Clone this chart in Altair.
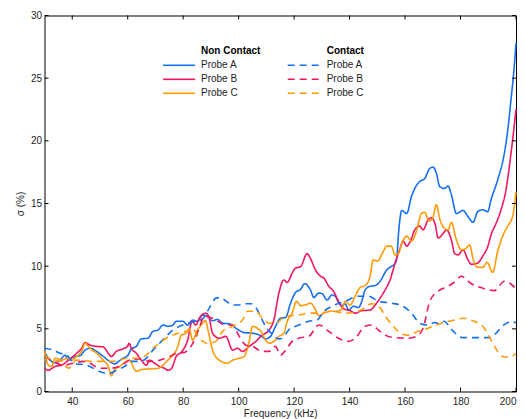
import altair as alt
import pandas as pd

# ---------------- data ----------------
nc_a_f = [30, 31, 32, 34, 36, 37.4, 38.6, 40, 41, 42.8, 44.6, 46.4, 48.8, 51.2, 53.5, 55.3, 57, 58.3, 60.1, 61.3,
          63.1, 64.9, 67.3, 69.1, 70.9, 72.7, 74.5, 76.3, 77.5, 79.9, 81.6, 83.4, 85.2, 87, 88.8, 90.6, 92.4, 94.2,
          96.6, 99, 102, 105, 108, 109.7, 111.5, 113.3, 115.1, 116.9, 118.7, 120.5, 122.3, 123.8, 125.9, 127.1,
          128.9, 130.1, 131.9, 133.6, 134.8, 136, 137.2, 138.4, 139.6, 141.4, 143.2, 144.4, 145.6, 147.4, 149.2,
          151, 153.4, 155.2, 156.4, 157, 157.6, 158.3, 158.8, 160.6, 162.3, 163.5, 165.3, 167.1, 168.9, 170.1,
          171.3, 172.5, 174.3, 175.5, 176.7, 178.5, 180.9, 182.7, 184.5, 186.2, 188, 189.8, 191, 193.4, 195.8,
          197, 198.2, 199.2, 200]
nc_a_v = [3.1, 2.8, 2.5, 2.3, 2.6, 2.9, 2.5, 2.7, 2.8, 2.85, 3.3, 3.45, 3.2, 2.8, 2.4, 2.2, 2.45, 2.65, 2.9, 3.4,
          3.6, 4.2, 4.25, 4.8, 4.9, 5.3, 5.2, 5.3, 5.6, 5.6, 5.3, 5.7, 5.6, 6.1, 6.0, 5.65, 5.75, 5.45,
          5.4, 5.05, 4.7, 4.65, 4.45, 4.2, 4.4, 5.2, 5.85, 5.9, 7.05, 7.9, 8.15, 8.6, 8.1, 7.5,
          7.85, 7.8, 7.3, 7.7, 7.6, 7.1, 6.85, 7.0, 6.5, 6.8, 6.7, 7.2, 8.1, 8.4, 8.45,
          8.8, 9.7, 10.0, 10.2, 10.6, 12.5, 14.0, 14.45, 14.2, 15.55, 16.2, 16.75, 17.0, 17.8, 17.9,
          17.4, 16.35, 16.2, 16.4, 15.7, 14.2, 14.45, 13.95, 13.5, 14.35, 14.5, 14.35, 15.3, 16.9, 19.0,
          20.8, 23.3, 25.5, 27.8]

nc_b_f = [30, 31.4, 33.8, 36.2, 38.6, 41.6, 43.4, 44.6, 46.4, 48.8, 51.2, 53, 54.1, 55.9, 58.3, 59.9, 60.5, 61.3,
          63.1, 64.9, 66.7, 67.9, 69.7, 71.5, 73.3, 74.5, 75.7, 77.5, 79.6, 81.6, 83.2, 84.6, 85.8, 88.2, 89.4,
          90.6, 93, 95.4, 97.8, 99.6, 101.4, 103.8, 106.2, 108.5, 111, 112.7, 114.5, 116.3, 117.5, 119.3, 120.5,
          122.3, 124.7, 125.9, 127.7, 129.5, 130.7, 132.5, 134.2, 136, 137.8, 140.2, 142, 144.4, 147.4, 149.2,
          151, 152.8, 154.6, 156.4, 158.2, 159.3, 160.6, 162.3, 163.5, 165.3, 166.5, 168.3, 169.5, 170.9, 171.9,
          173.7, 174.9, 176.7, 177.9, 179.1, 180.9, 182.7, 183.9, 186.2, 188, 189.8, 191, 192.8, 194.6, 196.4,
          198.2, 200]
nc_b_v = [1.85, 1.7, 2.0, 2.1, 2.5, 3.05, 3.45, 3.9, 3.7, 3.6, 3.55, 3.05, 2.8, 3.2, 3.4, 3.6, 3.85, 3.45,
          3.05, 2.5, 2.1, 2.5, 2.25, 2.0, 1.85, 1.7, 1.8, 2.8, 3.2, 4.1, 5.6, 5.3, 5.85, 6.25, 5.85,
          4.65, 4.25, 4.4, 3.3, 3.45, 3.2, 3.6, 4.0, 4.5, 4.9, 5.7, 7.85, 8.9, 8.7, 9.45, 9.85,
          9.95, 11.0, 10.6, 9.7, 9.2, 9.05, 8.4, 8.0, 7.2, 6.6, 6.45, 6.25, 6.45, 6.5, 6.9,
          7.45, 8.1, 8.9, 10.25, 11.4, 12.0, 11.6, 12.2, 12.9, 13.2, 12.9, 13.7, 13.85, 13.3, 12.25,
          12.6, 12.9, 12.1, 11.0, 10.9, 11.3, 10.5, 10.15, 10.25, 10.8, 11.55, 12.5, 13.4, 14.5, 16.1,
          19.0, 22.5]

nc_c_f = [30, 31.4, 32.6, 33.8, 36.2, 38, 39.8, 41.6, 43.4, 44.6, 46.4, 48.8, 51.2, 53, 54.1, 55.3, 57.1, 59.5,
          60.7, 61.9, 63.1, 64.9, 67.9, 70.9, 72.7, 74.5, 76.3, 78.1, 79.3, 81, 82.2, 83.4, 85.2, 87, 88, 89.2,
          90.6, 93, 96, 97.8, 100.2, 102, 103.8, 105, 106.7, 108.5, 109.7, 111, 112.7, 114.5, 116.3, 117.5, 119.3,
          120.9, 122.3, 124.1, 125.9, 127.4, 128.9, 130.7, 132.5, 134.8, 137.2, 138.4, 140.2, 142, 143.8, 145.6,
          147.4, 148.5, 150, 152.2, 153.4, 155, 156.4, 157.6, 158.8, 160.6, 162.3, 164.1, 165.9, 167.1, 168.6,
          169.9, 171.3, 172.5, 173.7, 175.5, 176.7, 178.5, 180.3, 182.1, 183.3, 184.5, 186.2, 188, 189.6, 191.6,
          193.4, 195.2, 197, 198.8, 200]
nc_c_v = [3.2, 2.1, 2.0, 2.65, 2.5, 2.65, 2.5, 2.8, 3.2, 3.85, 3.45, 3.05, 2.5, 2.0, 1.25, 1.75, 2.0, 2.4,
          2.5, 2.0, 1.6, 1.75, 1.8, 1.85, 2.1, 2.5, 2.9, 3.6, 4.5, 4.65, 5.0, 4.1, 4.9, 5.45, 5.65, 4.65,
          3.3, 2.5, 2.25, 2.5, 2.65, 2.8, 4.0, 5.2, 5.05, 4.65, 4.1, 3.85, 4.0, 4.4, 4.65, 5.6, 6.25,
          7.2, 6.85, 6.9, 7.05, 6.65, 6.05, 6.25, 6.4, 6.4, 6.55, 7.2, 6.9, 7.6, 8.3, 8.45,
          9.2, 10.5, 10.4, 11.2, 11.6, 11.6, 10.9, 11.0, 11.8, 12.4, 12.0, 12.8, 14.2, 14.3, 13.6,
          13.8, 14.9, 13.8, 13.15, 12.9, 13.5, 12.1, 11.3, 11.45, 11.7, 10.6, 9.9, 9.9, 10.3, 9.5,
          11.2, 12.4, 13.2, 14.0, 15.9]

c_a_f = [30, 33.2, 35.6, 38, 40, 41.6, 44, 46.4, 48.8, 51.2, 53.5, 55.9, 58.9, 61.3, 64.3, 66.7, 69.1, 71.5,
         73.9, 76.3, 78.7, 81.6, 84.6, 87, 89.4, 91.8, 93.6, 95.5, 97.8, 100, 102.5, 104.5, 106.5, 108.5, 110,
         112, 114.5, 115.7, 118, 121.7, 125.3, 128.3, 130.7, 133.6, 138.4, 143.2, 146.8, 150.4, 155.2, 159.3,
         162.3, 165.3, 168.3, 170.7, 172.5, 174, 177, 180.6, 185.4, 190.8, 193, 195, 198.6, 200]
c_a_v = [3.45, 3.3, 3.05, 2.9, 2.4, 2.2, 2.15, 2.0, 1.7, 1.5, 1.45, 1.7, 2.0, 2.4, 2.4, 2.65, 3.3, 3.85,
         4.4, 4.9, 5.2, 5.45, 5.6, 5.8, 6.65, 7.45, 7.5, 7.2, 6.9, 6.9, 7.0, 7.0, 6.6, 5.7, 5.1,
         4.6, 4.2, 4.25, 4.9, 5.3, 5.6, 5.7, 6.4, 6.8, 7.2, 7.6, 7.6, 7.2, 7.05, 6.8,
         6.25, 5.45, 5.3, 5.5, 5.4, 5.6, 4.9, 4.3, 4.3, 4.3, 4.7, 5.2, 5.6, 5.45]

c_b_f = [30, 33.2, 36.8, 40.4, 44, 46.4, 50, 53.5, 57.1, 60.7, 64.3, 67.9, 71.5, 75.1, 78.7, 79.9, 82.8, 84.6,
         86, 87.6, 90.6, 95.4, 97.8, 100.2, 102.6, 105, 108.5, 111, 113.3, 115.1, 116.9, 119.3, 121.7, 125.3,
         128.9, 132.5, 136, 139.6, 142, 145.6, 148, 150.4, 152.8, 156.4, 161.1, 164.1, 166.5, 168.9, 171.9,
         175.5, 178.2, 180.3, 183.9, 188.6, 192.2, 195.8, 198, 200]
c_b_v = [2.8, 2.4, 2.1, 2.25, 2.4, 2.25, 1.85, 1.85, 2.0, 2.5, 2.6, 2.4, 2.5, 2.8, 3.1, 3.1, 3.6, 4.4,
         5.2, 6.0, 5.85, 5.3, 5.3, 4.4, 3.7, 3.6, 3.2, 3.2, 3.6, 2.9, 3.3, 4.0, 4.25, 4.4,
         5.3, 4.8, 4.25, 4.0, 4.25, 5.2, 5.3, 4.9, 4.5, 4.3, 4.25, 4.4, 5.05, 7.2, 8.0,
         8.4, 8.8, 9.2, 8.6, 8.2, 8.05, 8.8, 8.6, 8.2]

c_c_f = [30, 33.2, 36.2, 38.6, 41.6, 44.6, 48.8, 52, 55.9, 59.5, 64.3, 66.7, 69.1, 71.5, 73.9, 76.3, 78.7, 81,
         83.2, 85.8, 88.8, 91.8, 94.2, 97.8, 101.4, 103.2, 106.2, 108.5, 111, 113.3, 116.9, 121.7, 125.3, 129,
         133.6, 138.4, 143.2, 148, 150.4, 153.4, 155.8, 158.7, 161.1, 164.7, 168.3, 173.1, 177.9, 180.9, 185,
         188.6, 191, 193.4, 195.8, 198, 200]
c_c_v = [2.85, 2.5, 2.4, 1.85, 2.5, 2.45, 2.4, 2.4, 2.4, 2.65, 2.65, 2.9, 3.45, 3.85, 4.25, 4.5, 4.7, 4.8,
         5.05, 4.25, 3.85, 4.0, 4.8, 5.2, 5.7, 6.4, 6.4, 5.85, 5.45, 5.45, 6.0, 6.1, 6.25, 6.25,
         6.4, 6.25, 6.4, 7.0, 6.8, 5.85, 5.2, 4.6, 4.5, 4.8, 5.05, 5.45, 5.7, 5.85, 5.6,
         5.05, 4.1, 3.2, 2.75, 2.75, 3.05]

probes = ["Probe A", "Probe B", "Probe C"]
kinds = ["Non Contact", "Contact"]
x_ticks = [40, 60, 80, 100, 120, 140, 160, 180, 200]
y_ticks = [0, 5, 10, 15, 20, 25, 30]

# ---------------- styling ----------------
colors = ["#1670f2", "#f0175f", "#ff9a0a"]
dash_on = [7, 5]
FONT = "Liberation Sans"
TXT = "#1e1e1e"
W, H = 471.5, 376
PAD = {"left": 36.5, "top": 7.5, "right": 1, "bottom": 27.5}

series = [
    ("Non Contact", "Probe A", nc_a_f, nc_a_v),
    ("Non Contact", "Probe B", nc_b_f, nc_b_v),
    ("Non Contact", "Probe C", nc_c_f, nc_c_v),
    ("Contact", "Probe A", c_a_f, c_a_v),
    ("Contact", "Probe B", c_b_f, c_b_v),
    ("Contact", "Probe C", c_c_f, c_c_v),
]
rows = []
for kind, probe, fs, vs in series:
    for f, v in zip(fs, vs):
        rows.append({"f": f, "v": v, "probe": probe, "kind": kind, "series": kind + " " + probe})
df = pd.DataFrame(rows)

xscale = alt.Scale(domain=[30, 200], nice=False, zero=False)
yscale = alt.Scale(domain=[0, 30], nice=False)

lines = alt.Chart(df).mark_line(strokeWidth=1.6, interpolate="monotone").encode(
    x=alt.X("f:Q", scale=xscale,
            axis=alt.Axis(values=x_ticks, title="Frequency (kHz)", labelPadding=5, titlePadding=2)),
    y=alt.Y("v:Q", scale=yscale,
            axis=alt.Axis(values=y_ticks, title="σ (%)", labelPadding=3, titlePadding=5)),
    color=alt.Color("probe:N", scale=alt.Scale(domain=probes, range=colors), legend=None),
    strokeDash=alt.StrokeDash("kind:N", scale=alt.Scale(domain=kinds, range=[[1, 0], dash_on]), legend=None),
    detail="series:N",
)

# inward tick marks on all four sides
xt = pd.DataFrame({"f": x_ticks})
yt = pd.DataFrame({"v": y_ticks})
TL = 4
tick_layers = [
    alt.Chart(xt).mark_rule(color="black", strokeWidth=1).encode(
        x=alt.X("f:Q", scale=xscale), y=alt.value(H), y2=alt.value(H - TL)),
    alt.Chart(xt).mark_rule(color="black", strokeWidth=1).encode(
        x=alt.X("f:Q", scale=xscale), y=alt.value(0), y2=alt.value(TL)),
    alt.Chart(yt).mark_rule(color="black", strokeWidth=1).encode(
        y=alt.Y("v:Q", scale=yscale), x=alt.value(0), x2=alt.value(TL)),
    alt.Chart(yt).mark_rule(color="black", strokeWidth=1).encode(
        y=alt.Y("v:Q", scale=yscale), x=alt.value(W), x2=alt.value(W - TL)),
]

# legend (two columns, drawn inside the plot)
dummy = pd.DataFrame({"a": [0]})
leg_layers = []
col_x = {"Non Contact": (118.5, 150.5, 156.5), "Contact": (243.2, 275.5, 282.2)}
head_y, row_y0, row_dy = 35.5, 49.8, 14
for kind in kinds:
    x0, x1, tx = col_x[kind]
    leg_layers.append(alt.Chart(dummy).mark_text(
        text=kind, align="left", baseline="middle", font=FONT, fontSize=10, fontWeight="bold", color="black"
    ).encode(x=alt.value(tx), y=alt.value(head_y)))
    for i, probe in enumerate(probes):
        yy = row_y0 + i * row_dy
        rule_kw = dict(color=colors[i], strokeWidth=1.6)
        if kind == "Contact":
            rule_kw["strokeDash"] = dash_on
        leg_layers.append(alt.Chart(dummy).mark_rule(**rule_kw).encode(
            x=alt.value(x0), x2=alt.value(x1), y=alt.value(yy)))
        leg_layers.append(alt.Chart(dummy).mark_text(
            text=probe, align="left", baseline="middle", font=FONT, fontSize=10, color=TXT
        ).encode(x=alt.value(tx), y=alt.value(yy)))

chart = alt.layer(lines, *tick_layers, *leg_layers).properties(
    width=W, height=H,
    autosize=alt.AutoSizeParams(type="none"),
    padding=PAD,
).configure_view(
    stroke="black", strokeWidth=1
).configure_axis(
    grid=False, ticks=False, domain=False,
    labelFont=FONT, titleFont=FONT, labelFontSize=10, titleFontSize=10,
    titleFontWeight="normal", labelColor=TXT, titleColor=TXT,
)

chart.save("out.html", embed_options={"renderer": "svg", "actions": False})
